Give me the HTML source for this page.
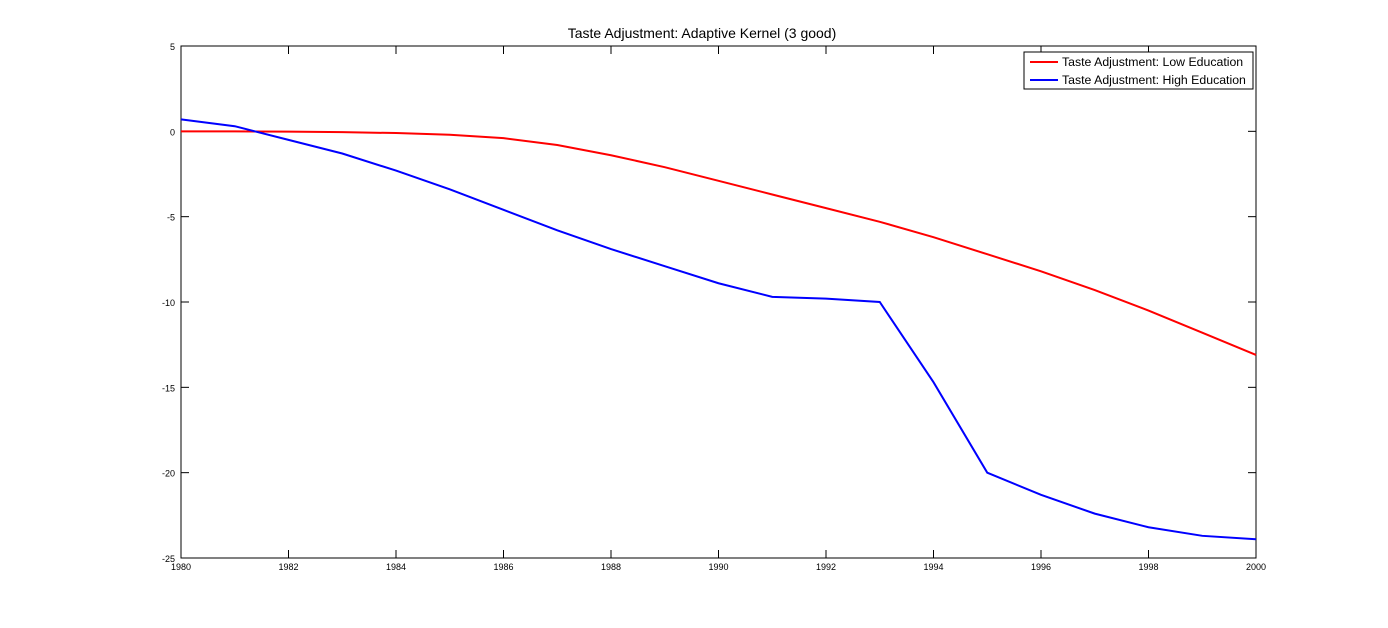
<!DOCTYPE html>
<html><head><meta charset="utf-8"><style>
body{margin:0;background:#fff;}
svg{display:block;font-family:"Liberation Sans",sans-serif;}
</style></head><body>
<svg id="chart" width="1388" height="628">
<rect x="0" y="0" width="1388" height="628" fill="#fff"/>
<text x="702" y="38" font-size="14" text-anchor="middle">Taste Adjustment: Adaptive Kernel (3 good)</text>
<g id="axes"></g>
<g id="series"></g>
<g>
<rect x="1024" y="52" width="229" height="37" fill="#fff" stroke="#000" stroke-width="1"/>
<line x1="1030" y1="62" x2="1058" y2="62" stroke="#f00" stroke-width="2"/>
<text x="1062" y="66" font-size="12.3">Taste Adjustment: Low Education</text>
<line x1="1030" y1="80" x2="1058" y2="80" stroke="#00f" stroke-width="2"/>
<text x="1062" y="84" font-size="12.3">Taste Adjustment: High Education</text>
</g>
</svg>
<script>
const years=[1980,1981,1982,1983,1984,1985,1986,1987,1988,1989,1990,1991,1992,1993,1994,1995,1996,1997,1998,1999,2000];
const lowEdu=[0,0,-0.02,-0.05,-0.1,-0.2,-0.4,-0.8,-1.4,-2.1,-2.9,-3.7,-4.5,-5.3,-6.2,-7.2,-8.2,-9.3,-10.5,-11.8,-13.1];
const highEdu=[0.7,0.3,-0.5,-1.3,-2.3,-3.4,-4.6,-5.8,-6.9,-7.9,-8.9,-9.7,-9.8,-10.0,-14.7,-20.0,-21.3,-22.4,-23.2,-23.7,-23.9];
const xTicks=[1980,1982,1984,1986,1988,1990,1992,1994,1996,1998,2000];
const yTicks=[5,0,-5,-10,-15,-20,-25];
const L=181,R=1256,T=46,B=558;
const xs=v=>L+(v-1980)/20*(R-L);
const ys=v=>T+(5-v)/30*(B-T);
const NS="http://www.w3.org/2000/svg";
const ax=document.getElementById('axes');
function mk(tag,attrs,parent){const e=document.createElementNS(NS,tag);for(const k in attrs)e.setAttribute(k,attrs[k]);parent.appendChild(e);return e;}
const frame=mk('rect',{x:L,y:T,width:R-L,height:B-T,fill:'none',stroke:'#000','stroke-width':1},ax);


xTicks.forEach(t=>{const x=xs(t);
const a=mk('line',{x1:x,y1:B,x2:x,y2:B-8,stroke:'#000'},ax);


const b=mk('line',{x1:x,y1:T,x2:x,y2:T+8,stroke:'#000'},ax);


const tx=mk('text',{x:x,y:B+12,'font-size':9,'text-anchor':'middle'},ax);tx.textContent=t;


});
yTicks.forEach(t=>{const y=ys(t);
const a=mk('line',{x1:L,y1:y,x2:L+8,y2:y,stroke:'#000'},ax);


const b=mk('line',{x1:R,y1:y,x2:R-8,y2:y,stroke:'#000'},ax);


const tx=mk('text',{x:L-6,y:y+4,'font-size':9,'text-anchor':'end'},ax);tx.textContent=t;


});
const sg=document.getElementById('series');
function line(vals,color,name){
const p=mk('polyline',{points:vals.map((v,i)=>xs(years[i])+','+ys(v)).join(' '),fill:'none',stroke:color,'stroke-width':2},sg);


}
line(lowEdu,'#f00','line-low-education');
line(highEdu,'#00f','line-high-education');
</script>
</body></html>
